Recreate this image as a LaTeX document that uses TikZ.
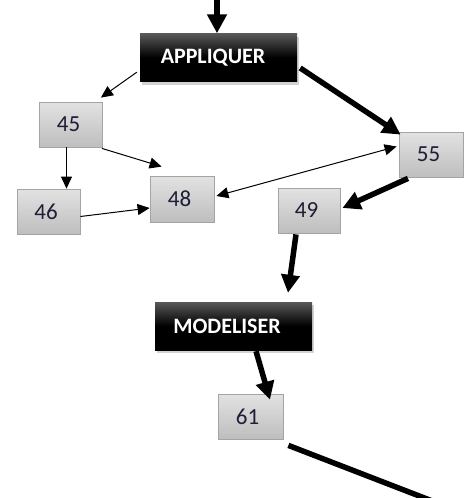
\documentclass[tikz,border=0pt]{standalone}
\usepackage{fontspec}
\setmainfont{Carlito}
\usetikzlibrary{arrows.meta,shadows}
\definecolor{boxtop}{HTML}{E2E2E2}
\definecolor{boxbot}{HTML}{BEBEBE}
\definecolor{boxline}{HTML}{A4A4A4}
\definecolor{numcol}{HTML}{1E1E36}
\begin{document}
\begin{tikzpicture}[x=1pt,y=-1pt,
  numbox/.style={draw=boxline, line width=0.8pt, top color=boxtop, bottom color=boxbot,
    minimum width=63pt, minimum height=45pt, inner sep=0pt, text=numcol,
    font=\fontsize{23}{26}\selectfont},
  blackbox/.style={fill=black, top color=black!65, bottom color=black, middle color=black,
    minimum width=157pt, minimum height=48pt, inner sep=0pt, text=white,
    font=\bfseries\fontsize{22}{25}\selectfont,
    drop shadow={shadow xshift=2pt, shadow yshift=-3pt, opacity=0.35}},
  thinarrow/.style={draw=black, line width=1pt, -{Triangle[length=12pt,width=11pt]}},
  thickarrow/.style={draw=black, line width=5.5pt, -{Triangle[length=18pt,width=18pt]}},
  thickline/.style={draw=black, line width=5.5pt}]
\useasboundingbox (0,0) rectangle (468,498);

\node[blackbox] (app) at (218.5,57.5) {\hspace*{-11pt}APPLIQUER};
\node[numbox] (n45) at (71,124.5) {\hspace*{-5pt}45};
\node[numbox] (n46) at (48.5,211.5) {\hspace*{-5pt}46};
\node[numbox, minimum width=64pt, minimum height=46pt] (n48) at (182,199) {\hspace*{-5pt}48};
\node[numbox, minimum width=64pt] (n55) at (431,154.5) {\hspace*{-5pt}55};
\node[numbox, minimum width=62pt] (n49) at (309,210.5) {\hspace*{-5pt}49};
\node[blackbox] (mod) at (233.5,326) {\hspace*{-13pt}MODELISER};
\node[numbox, minimum width=65pt] (n61) at (250.5,416.5) {\hspace*{-6pt}61};

\coordinate (top) at (217,-6);
\coordinate (tail) at (440,504);

\draw[thickarrow, -{Triangle[length=19pt,width=19pt]}] (top) -- ([xshift=-1.5]app.north);
\draw[thinarrow] ([shift={(-3,-9.5)}]app.south west) -- ([shift={(-2,-4)}]n45.north east);
\draw[thickarrow] ([shift={(3,10.5)}]app.east) -- ([shift={(2,3)}]n55.north west);
\draw[thinarrow] ([xshift=-4.5]n45.south) -- ([xshift=18]n46.north);
\draw[thinarrow] ([shift={(-1,1)}]n45.south east) -- ([shift={(12,-9)}]n48.north west);
\draw[thinarrow] ([shift={(0,5)}]n46.east) -- ([shift={(0,9)}]n48.west);
\draw[thinarrow, {Triangle[length=12pt,width=11pt]}-{Triangle[length=12pt,width=11pt]}] ([shift={(2,-3)}]n48.east) -- ([shift={(-2,-8)}]n55.west);
\draw[thickarrow] ([shift={(-23,1)}]n55.south) -- ([shift={(2,-2.5)}]n49.east);
\draw[thickarrow] ([shift={(-13,1)}]n49.south) -- ([shift={(54.5,-9)}]mod.north);
\draw[thickarrow] ([shift={(22.5,1)}]mod.south) -- ([shift={(19.5,6)}]n61.north);
\draw[thickline] ([shift={(5,6)}]n61.south east) -- (tail);
\end{tikzpicture}
\end{document}
